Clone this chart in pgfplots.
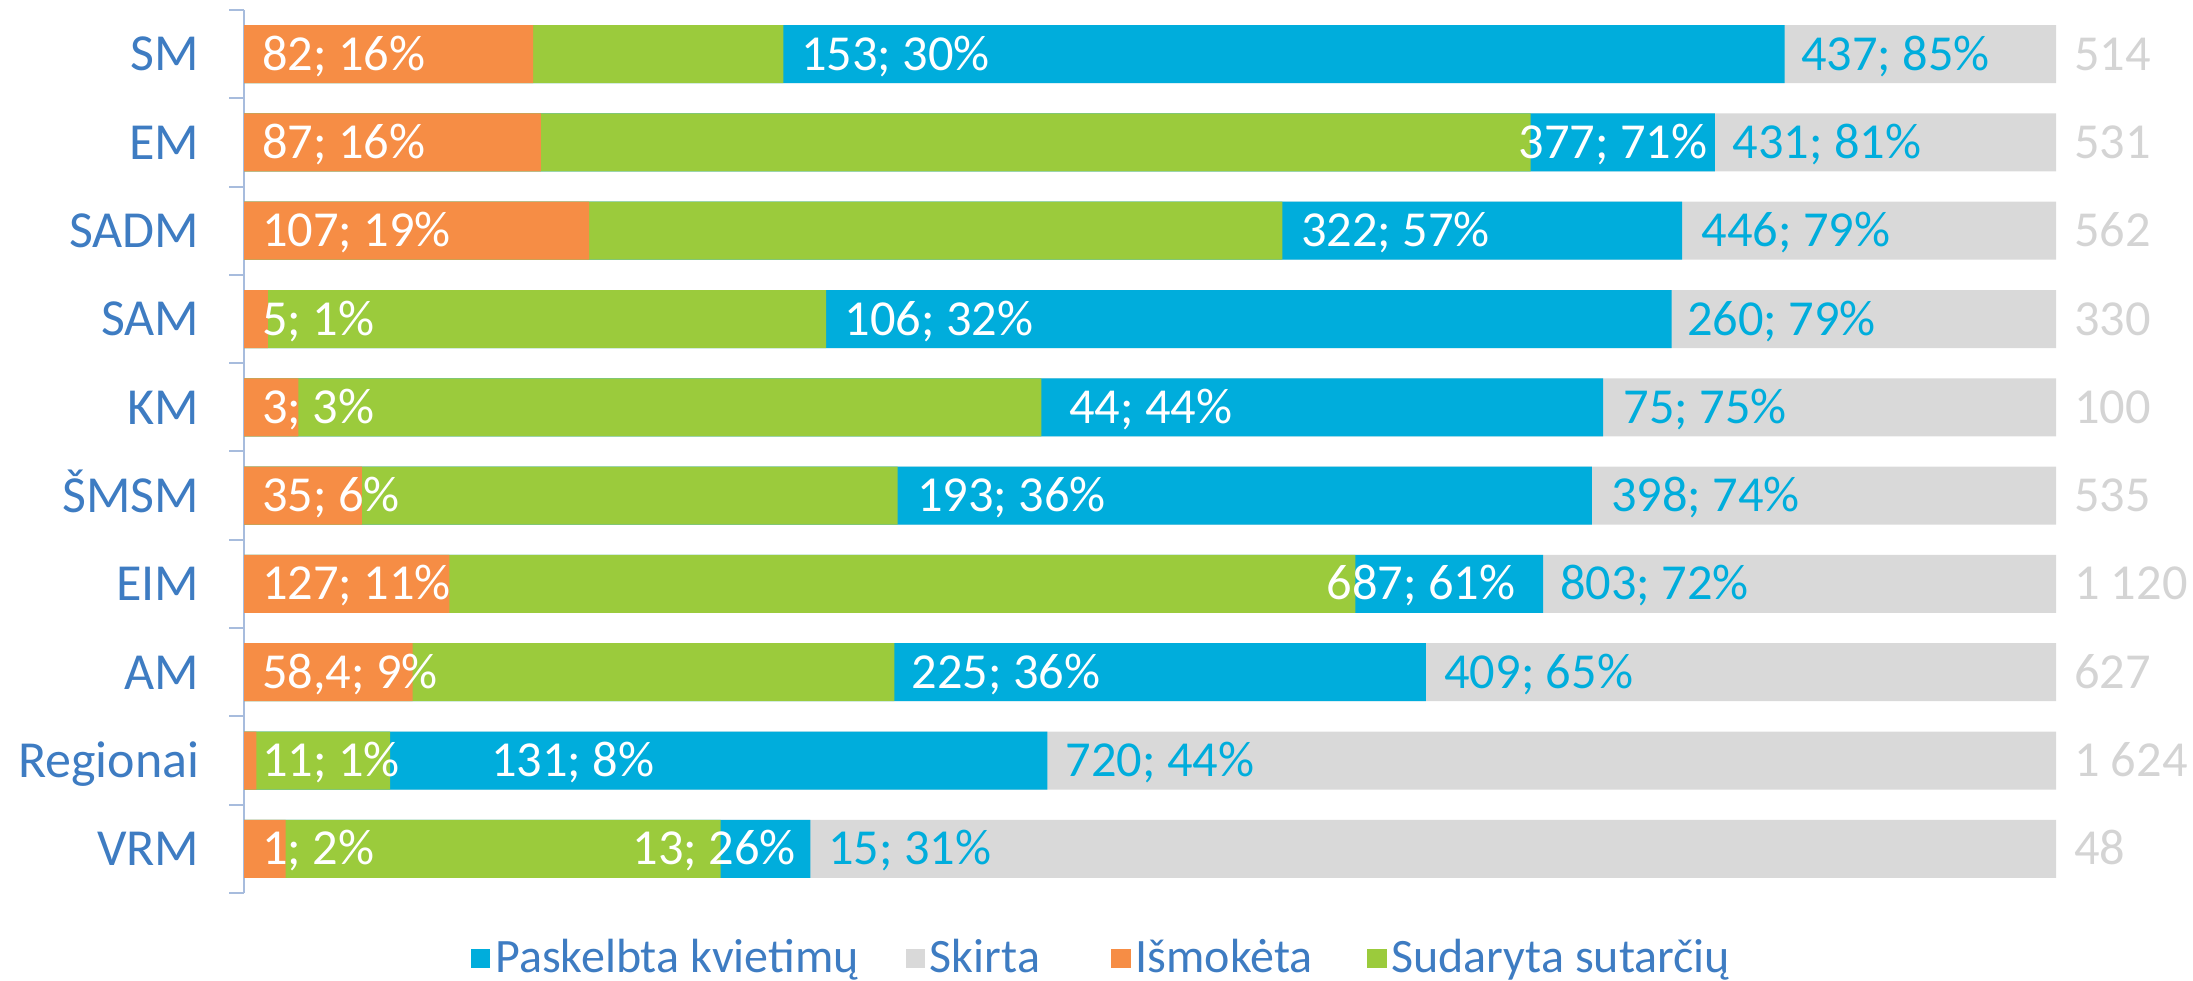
\documentclass[border=0pt]{standalone}
\usepackage{fontspec}
\setmainfont{Carlito}
\usepackage{pgfplots}
\pgfplotsset{compat=1.18}
\usepackage{pgfplotstable}
\definecolor{cblue}{HTML}{00ADDC}
\definecolor{cgray}{HTML}{D9D9D9}
\definecolor{corange}{HTML}{F68D45}
\definecolor{cgreen}{HTML}{9BCB3C}
\definecolor{ctext}{HTML}{3E7CC2}
\definecolor{caxis}{HTML}{A7BCDD}
\definecolor{ctotal}{HTML}{D4D4D4}

% percent of "Skirta" for each ministry (1 = SM ... 10 = VRM)
\pgfplotstableread{
y skirta paskelbta sudaryta ismoketa
1 100 85.02 29.77 15.95
2 100 81.17 71.00 16.38
3 100 79.36 57.30 19.04
4 100 78.79 32.12 1.32
5 100 75.00 44.00 3.00
6 100 74.39 36.07 6.50
7 100 71.70 61.34 11.34
8 100 65.23 35.89 9.31
9 100 44.33 8.07 0.68
10 100 31.25 26.30 2.30
}\bars

\tikzset{
  lab/.style={anchor=west, inner sep=0pt, font=\fontsize{12.6}{14}\selectfont,
    text height=8pt, text depth=0pt},
  wl/.style={lab, text=white},
  bl/.style={lab, text=cblue},
  tl/.style={lab, text=ctotal},
}

\begin{document}
\begin{tikzpicture}
\useasboundingbox (0,0) rectangle (548.25pt,245.25pt);
\begin{axis}[
  at={(61pt,22pt)}, anchor=south west,
  scale only axis, width=453pt, height=220.75pt,
  xmin=0, xmax=100, ymin=0.5, ymax=10.5,
  y dir=reverse,
  clip=false,
  axis x line=none,
  axis y line*=left,
  axis line style={draw=caxis, line width=0.5pt},
  xtick=\empty,
  ytick={1,...,10},
  yticklabels={SM,EM,SADM,SAM,KM,ŠMSM,EIM,AM,Regionai,VRM},
  major tick length=0pt,
  yticklabel style={font=\fontsize{13}{15}\selectfont, text=ctext, anchor=east,
     inner sep=0pt, xshift=-11pt, text height=8.4pt, text depth=0pt},
  extra y ticks={0.5,1.5,2.5,3.5,4.5,5.5,6.5,7.5,8.5,9.5,10.5},
  extra y tick labels={},
  extra y tick style={major tick length=3.75pt, tick align=outside,
     tick style={draw=caxis, line width=0.5pt}},
  legend style={at={(0.474,-0.074)}, anchor=center, draw=none, fill=none,
     font=\fontsize{12}{14}\selectfont, text=ctext, inner sep=0pt,
     nodes={inner sep=1.2pt},
     /tikz/every even column/.append style={column sep=10.5pt}},
  legend columns=4,
  legend cell align=left,
]
\addplot[xbar, bar width=14.5pt, bar shift=0pt, fill=cgray, draw=none, forget plot] table[x=skirta, y=y]{\bars};
\addplot[xbar, bar width=14.5pt, bar shift=0pt, fill=cblue, draw=none, forget plot] table[x=paskelbta, y=y]{\bars};
\addplot[xbar, bar width=14.5pt, bar shift=0pt, fill=cgreen, draw=none, forget plot] table[x=sudaryta, y=y]{\bars};
\addplot[xbar, bar width=14.5pt, bar shift=0pt, fill=corange, draw=none, forget plot] table[x=ismoketa, y=y]{\bars};

% white labels (Išmokėta, Sudaryta sutarčių)
\node[wl] at (axis cs:0.95,1) {82; 16\%};   \node[wl] at (axis cs:30.7,1) {153; 30\%};
\node[wl] at (axis cs:0.95,2) {87; 16\%};   \node[wl] at (axis cs:70.3,2) {377; 71\%};
\node[wl] at (axis cs:0.95,3) {107; 19\%};  \node[wl] at (axis cs:58.3,3) {322; 57\%};
\node[wl] at (axis cs:0.95,4) {5; 1\%};     \node[wl] at (axis cs:33.1,4) {106; 32\%};
\node[wl] at (axis cs:0.95,5) {3; 3\%};     \node[wl] at (axis cs:45.5,5) {44; 44\%};
\node[wl] at (axis cs:0.95,6) {35; 6\%};    \node[wl] at (axis cs:37.1,6) {193; 36\%};
\node[wl] at (axis cs:0.95,7) {127; 11\%};  \node[wl] at (axis cs:59.7,7) {687; 61\%};
\node[wl] at (axis cs:0.95,8) {58,4; 9\%};  \node[wl] at (axis cs:36.8,8) {225; 36\%};
\node[wl] at (axis cs:0.95,9) {11; 1\%};    \node[wl] at (axis cs:13.6,9) {131; 8\%};
\node[wl] at (axis cs:0.95,10) {1; 2\%};    \node[wl] at (axis cs:21.4,10) {13; 26\%};
% blue labels (Paskelbta kvietimų)
\node[bl] at (axis cs:85.9,1) {437; 85\%};
\node[bl] at (axis cs:82.1,2) {431; 81\%};
\node[bl] at (axis cs:80.4,3) {446; 79\%};
\node[bl] at (axis cs:79.6,4) {260; 79\%};
\node[bl] at (axis cs:76.1,5) {75; 75\%};
\node[bl] at (axis cs:75.4,6) {398; 74\%};
\node[bl] at (axis cs:72.6,7) {803; 72\%};
\node[bl] at (axis cs:66.2,8) {409; 65\%};
\node[bl] at (axis cs:45.3,9) {720; 44\%};
\node[bl] at (axis cs:32.2,10) {15; 31\%};
% totals (Skirta)
\node[tl] at (axis cs:100.95,1) {514};
\node[tl] at (axis cs:100.95,2) {531};
\node[tl] at (axis cs:100.95,3) {562};
\node[tl] at (axis cs:100.95,4) {330};
\node[tl] at (axis cs:100.95,5) {100};
\node[tl] at (axis cs:100.95,6) {535};
\node[tl] at (axis cs:100.95,7) {1 120};
\node[tl] at (axis cs:100.95,8) {627};
\node[tl] at (axis cs:100.95,9) {1 624};
\node[tl] at (axis cs:100.95,10) {48};

\addlegendimage{legend image code/.code={\fill[cblue] (0pt,-2.25pt) rectangle (4.5pt,2.25pt);}}
\addlegendentry{Paskelbta kvietimų}
\addlegendimage{legend image code/.code={\fill[cgray] (0pt,-2.25pt) rectangle (4.5pt,2.25pt);}}
\addlegendentry{Skirta\rule{6.1pt}{0pt}}
\addlegendimage{legend image code/.code={\fill[corange] (0pt,-2.25pt) rectangle (4.5pt,2.25pt);}}
\addlegendentry{Išmokėta\rule{1.9pt}{0pt}}
\addlegendimage{legend image code/.code={\fill[cgreen] (0pt,-2.25pt) rectangle (4.5pt,2.25pt);}}
\addlegendentry{Sudaryta sutarčių}
\end{axis}
\end{tikzpicture}
\end{document}
